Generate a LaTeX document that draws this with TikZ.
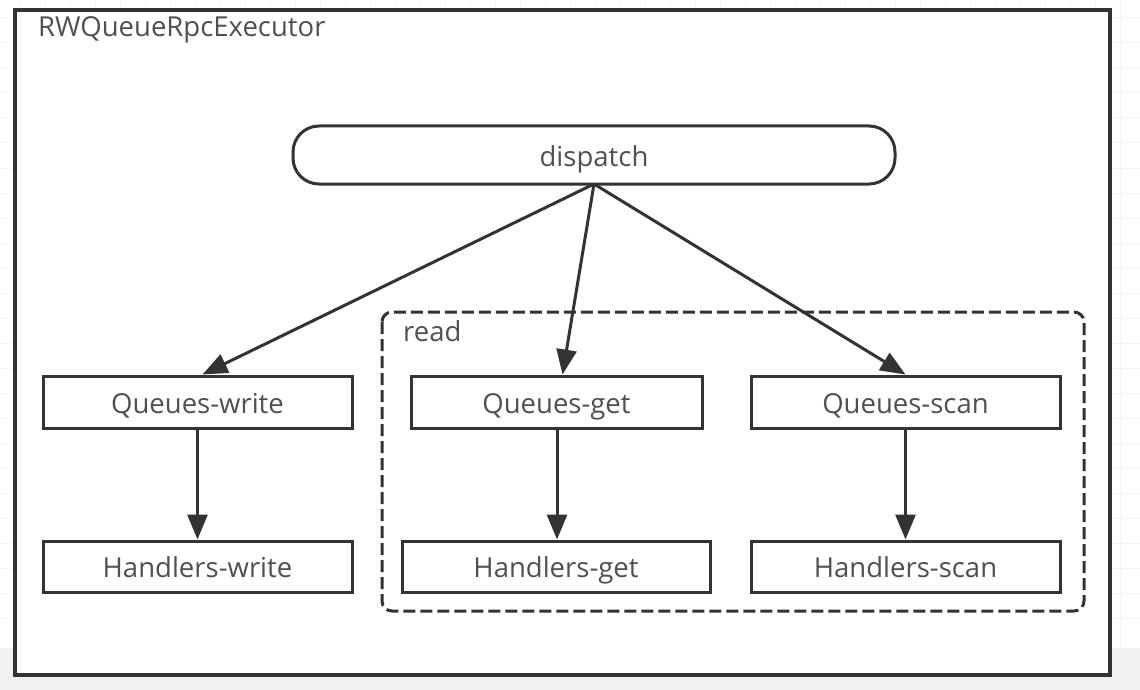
\documentclass[tikz,border=0pt]{standalone}
\usepackage{fontspec}
\setmainfont{Open Sans}
\usetikzlibrary{arrows.meta}
\definecolor{linec}{HTML}{333333}
\definecolor{textc}{HTML}{505050}
\definecolor{bandc}{HTML}{F0F0F0}
\definecolor{gridc}{HTML}{F4F4F4}
\tikzset{
  every node/.style={font=\fontsize{27.5}{32}\selectfont, text=textc},
  box/.style={draw=linec, line width=3pt, minimum height=52pt, inner sep=0pt, text height=24pt, text depth=2pt},
  conn/.style={draw=linec, line width=3pt, -{Triangle[length=25pt,width=20pt]}},
  lbl/.style={anchor=west, inner sep=0pt},
}
\begin{document}
\begin{tikzpicture}[x=1pt,y=-1pt]
\useasboundingbox (0,0) rectangle (1140,690);
% background
\fill[white] (0,0) rectangle (1140,690);
\foreach \yy in {18,43,...,640} \draw[gridc, line width=1pt] (0,\yy) -- (1140,\yy);
\foreach \xx in {20,45,...,1140} \draw[gridc, line width=1pt] (\xx,0) -- (\xx,648);
\fill[bandc] (0,648) rectangle (1140,690);
% outer frame
\draw[linec, line width=3.5pt, fill=white] (15,10) rectangle (1110,675);
\node[lbl] (title) at (38,30) {RWQueueRpcExecutor};
% read group
\draw[linec, line width=3pt, dash pattern=on 12pt off 5pt, rounded corners=10pt] (382,312) rectangle (1084,611);
\node[lbl] (readlbl) at (403,331) {read};
% dispatch
\node[box, rounded corners=26pt, minimum width=602pt, minimum height=58pt] (dispatch) at (594,155) {dispatch};
% queues
\node[box, minimum width=309pt] (qw) at (197.5,402) {Queues-write};
\node[box, minimum width=291pt] (qg) at (556.5,402) {Queues-get};
\node[box, minimum width=309pt] (qs) at (905.5,402) {Queues-scan};
% handlers
\node[box, minimum width=309pt, minimum height=51pt] (hw) at (197.5,566.5) {Handlers-write};
\node[box, minimum width=308pt, minimum height=51pt] (hg) at (556,566.5) {Handlers-get};
\node[box, minimum width=309pt, minimum height=51pt] (hs) at (905.5,566.5) {Handlers-scan};
% connectors
\coordinate (d0) at (594,184);
\draw[conn] (d0) -- ([xshift=5pt]qw.north);
\draw[conn] (d0) -- ([xshift=6pt]qg.north);
\draw[conn] (d0) -- (qs.north);
\draw[conn] (qw.south) -- (hw.north);
\draw[conn] ([xshift=0.5pt]qg.south) -- ([xshift=1pt]hg.north);
\draw[conn] (qs.south) -- (hs.north);
\end{tikzpicture}
\end{document}
